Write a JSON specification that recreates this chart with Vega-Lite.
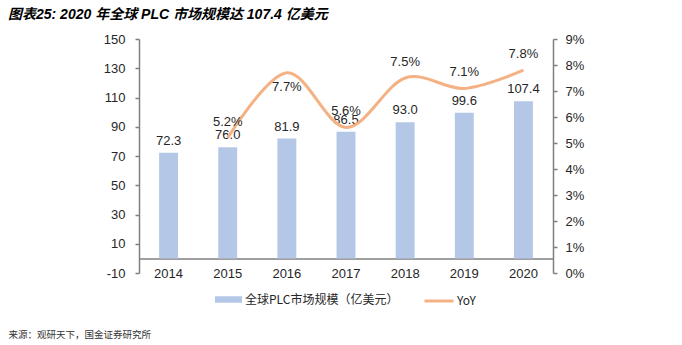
{
  "$schema": "https://vega.github.io/schema/vega-lite/v6.json",
  "width": 414,
  "height": 234,
  "autosize": "none",
  "padding": {"left": 139, "top": 39, "right": 129, "bottom": 72},
  "background": "white",
  "title": {
    "text": "图表25: 2020 年全球 PLC 市场规模达 107.4 亿美元",
    "anchor": "start",
    "frame": "group",
    "dx": -131,
    "offset": 11,
    "font": "Liberation Sans, Noto Sans CJK SC",
    "fontSize": 14,
    "fontWeight": "bold",
    "fontStyle": "italic",
    "color": "#000000"
  },
  "data": {
    "values": [
      {"year": "2014", "value": 72.3, "yoy": null},
      {"year": "2015", "value": 76.0, "yoy": 0.052},
      {"year": "2016", "value": 81.9, "yoy": 0.077},
      {"year": "2017", "value": 86.5, "yoy": 0.056},
      {"year": "2018", "value": 93.0, "yoy": 0.075},
      {"year": "2019", "value": 99.6, "yoy": 0.071},
      {"year": "2020", "value": 107.4, "yoy": 0.078}
    ]
  },
  "config": {
    "view": {"stroke": null},
    "axis": {
      "grid": false,
      "labelFont": "Liberation Sans",
      "labelFontSize": 13,
      "labelColor": "#262626",
      "labelOverlap": false,
      "domainColor": "#7f7f7f",
      "tickColor": "#7f7f7f",
      "domainWidth": 1.5,
      "tickWidth": 1.5
    },
    "text": {"font": "Liberation Sans", "fontSize": 13, "color": "#262626"}
  },
  "encoding": {
    "x": {
      "field": "year",
      "type": "ordinal",
      "scale": {"paddingInner": 0.68, "paddingOuter": 0.34},
      "axis": {
        "title": "来源：观研天下，国金证券研究所",
        "titleX": -131,
        "titleY": 76.6,
        "titleAlign": "left",
        "titleAnchor": "start",
        "titleBaseline": "middle",
        "titleFont": "Noto Sans CJK SC",
        "titleFontSize": 9.5,
        "titleFontWeight": "normal",
        "titleColor": "#333333",
        "labelAngle": 0,
        "offset": -14.625,
        "ticks": false,
        "labelPadding": 9
      }
    }
  },
  "layer": [
    {
      "layer": [
        {
          "mark": {"type": "bar"},
          "encoding": {
            "y": {
              "field": "value",
              "type": "quantitative",
              "scale": {"domain": [-10, 150], "nice": false, "zero": false},
              "axis": {
                "title": null,
                "values": [-10, 10, 30, 50, 70, 90, 110, 130, 150],
                "labelExpr": "'' + datum.value",
                "labelOverlap": false,
                "labelSeparation": 0,
                "tickSize": 4,
                "labelPadding": 10
              }
            },
            "y2": {"datum": 0},
            "fill": {
              "datum": "全球PLC市场规模（亿美元）",
              "scale": {"range": ["#B4C7E7"]},
              "legend": {
                "orient": "none",
                "legendX": 76,
                "legendY": 247,
                "title": null,
                "direction": "horizontal",
                "padding": 0,
                "symbolType": "M-1,-0.24H1V0.24H-1Z",
                "symbolSize": 729,
                "symbolStrokeWidth": 0,
                "labelFont": "Noto Sans CJK SC",
                "labelFontSize": 12,
                "labelColor": "#262626",
                "labelOffset": 3
              }
            }
          }
        },
        {
          "mark": {"type": "text", "baseline": "bottom", "dy": -5},
          "encoding": {
            "y": {"field": "value", "type": "quantitative", "axis": {"labelOverlap": false, "values": [-10, 10, 30, 50, 70, 90, 110, 130, 150]}},
            "text": {"field": "value", "type": "quantitative", "format": ".1f"}
          }
        }
      ]
    },
    {
      "transform": [{"filter": "datum.yoy != null"}],
      "layer": [
        {
          "mark": {"type": "line", "interpolate": "cardinal", "strokeWidth": 3},
          "encoding": {
            "y": {
              "field": "yoy",
              "type": "quantitative",
              "scale": {"domain": [0, 0.09], "nice": false},
              "axis": {
                "title": null,
                "orient": "right",
                "format": ".0%",
                "values": [0, 0.01, 0.02, 0.03, 0.04, 0.05, 0.06, 0.07, 0.08, 0.09],
                "labelOverlap": false,
                "labelSeparation": 0,
                "tickSize": 4,
                "labelPadding": 8
              }
            },
            "stroke": {
              "datum": "YoY",
              "scale": {"range": ["#F4B183"]},
              "legend": {
                "orient": "none",
                "legendX": 284,
                "legendY": 246,
                "title": null,
                "direction": "horizontal",
                "padding": 0,
                "symbolType": "stroke",
                "symbolSize": 841,
                "symbolStrokeWidth": 3,
                "labelFont": "Noto Sans CJK SC",
                "labelFontSize": 12,
                "labelColor": "#262626",
                "labelOffset": 2
              }
            }
          }
        },
        {
          "transform": [{"filter": "datum.year != '2016'"}],
          "mark": {"type": "text", "baseline": "middle", "dy": -16},
          "encoding": {
            "y": {"field": "yoy", "type": "quantitative", "axis": {"labelOverlap": false, "orient": "right", "format": ".0%", "values": [0, 0.01, 0.02, 0.03, 0.04, 0.05, 0.06, 0.07, 0.08, 0.09]}},
            "text": {"field": "yoy", "type": "quantitative", "format": ".1%"}
          }
        },
        {
          "transform": [{"filter": "datum.year == '2016'"}],
          "mark": {"type": "text", "baseline": "middle", "dy": 14},
          "encoding": {
            "y": {"field": "yoy", "type": "quantitative", "axis": {"labelOverlap": false, "orient": "right", "format": ".0%", "values": [0, 0.01, 0.02, 0.03, 0.04, 0.05, 0.06, 0.07, 0.08, 0.09]}},
            "text": {"field": "yoy", "type": "quantitative", "format": ".1%"}
          }
        }
      ]
    }
  ],
  "resolve": {"scale": {"y": "independent"}}
}
